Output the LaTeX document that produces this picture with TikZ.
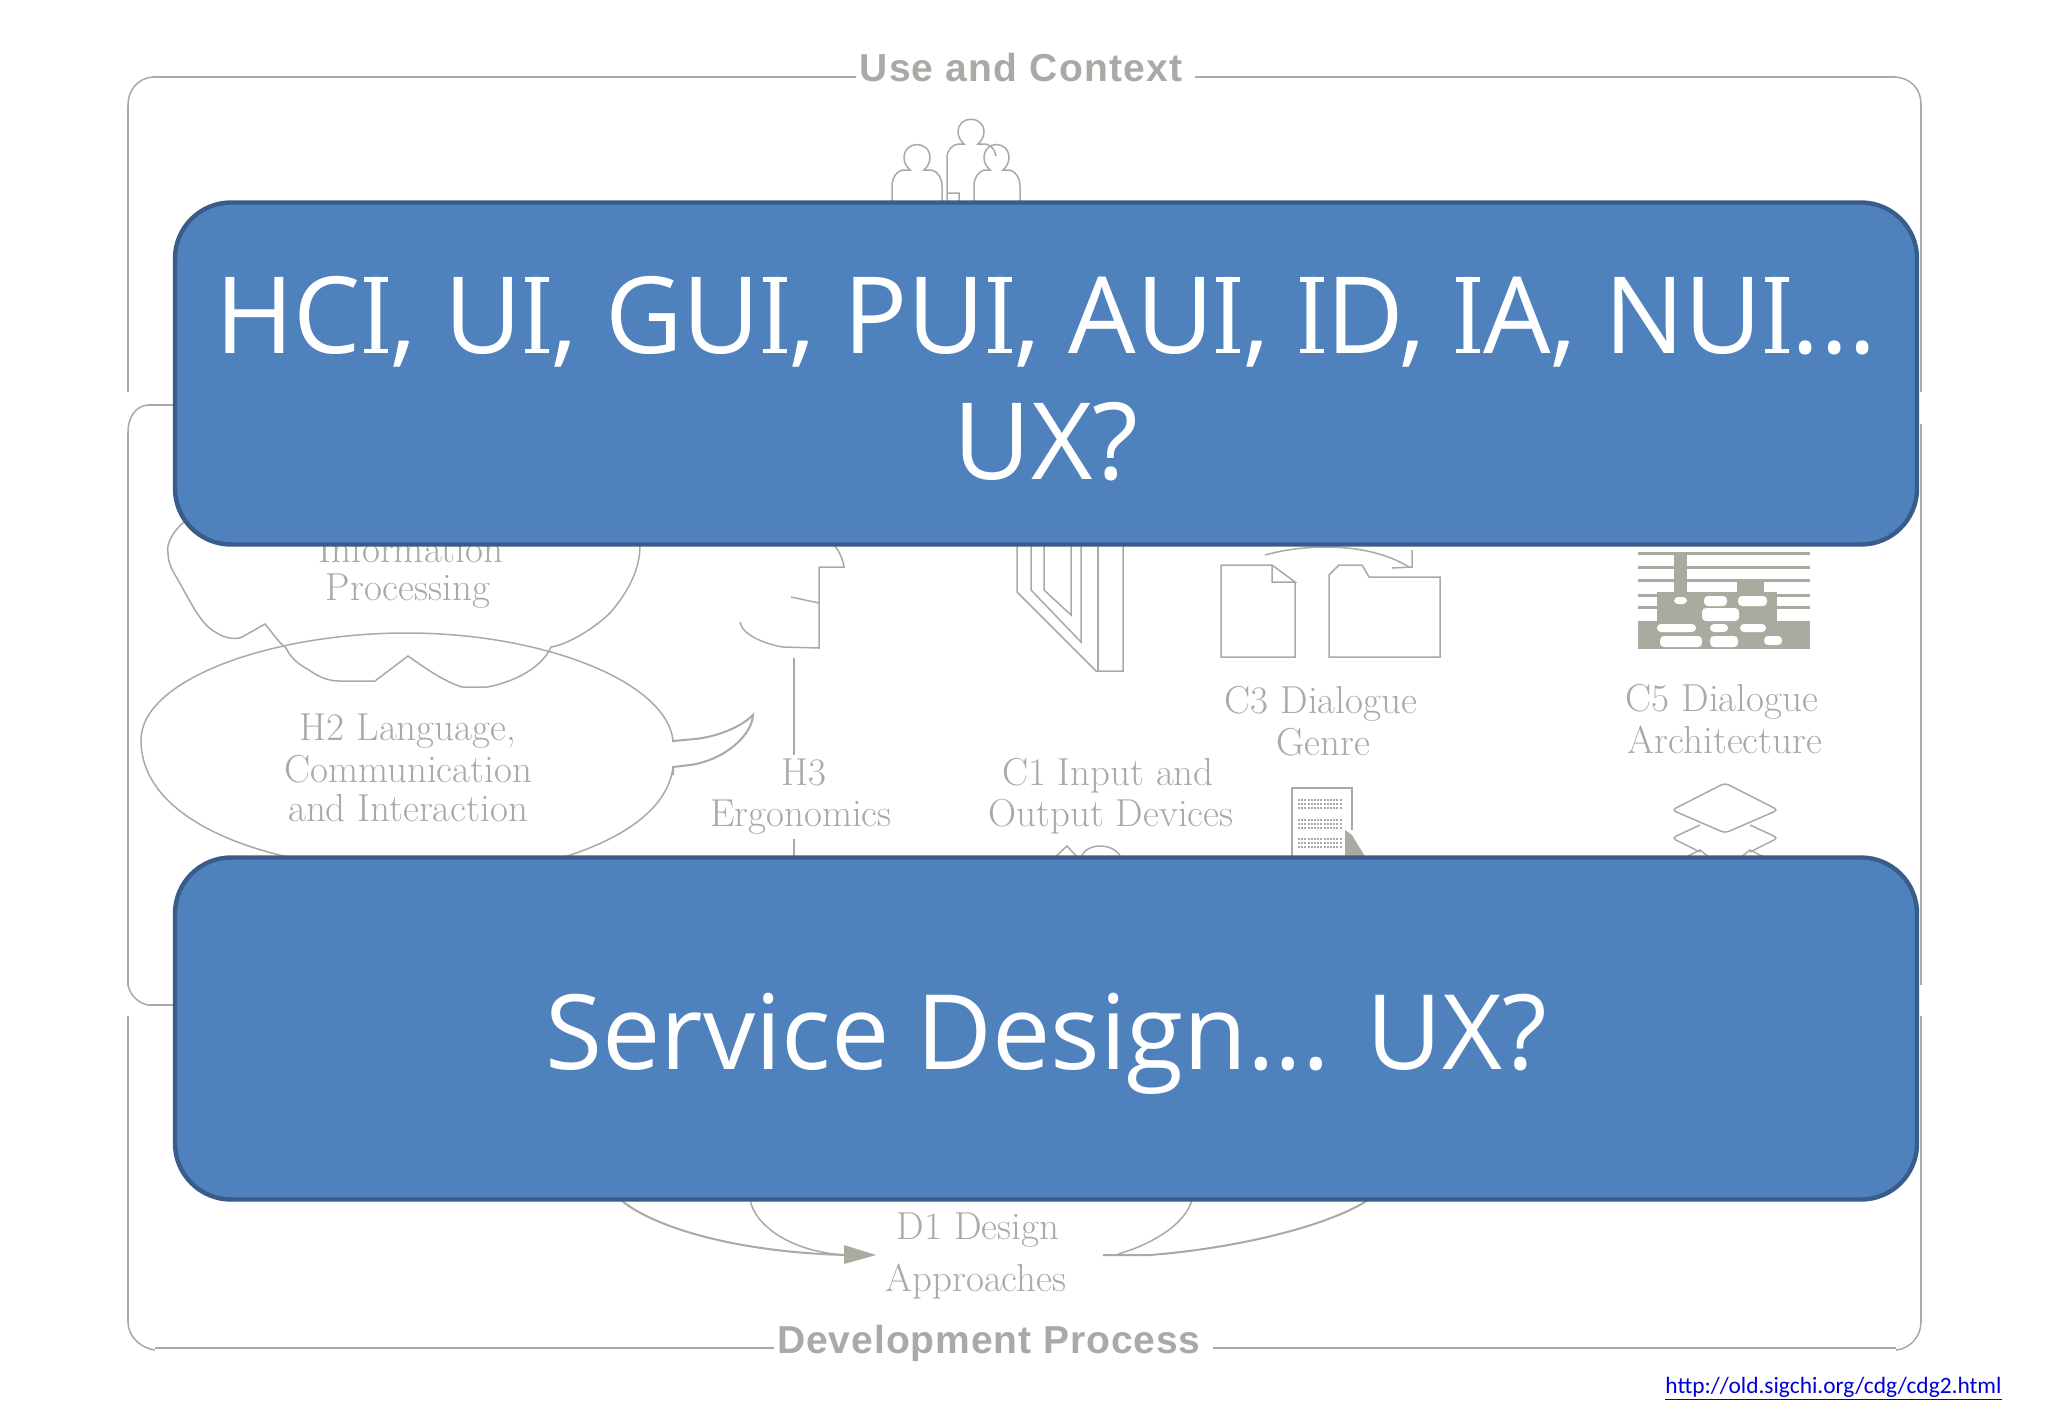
\documentclass[tikz,border=0pt]{standalone}
\usepackage{fontspec}
\setmainfont{Open Sans}
\newfontfamily\headfont[LetterSpace=3.2]{Liberation Sans}
\newfontfamily\devfont[LetterSpace=2.4]{Liberation Sans}
\newfontfamily\slabfont{Latin Modern Roman}
\newfontfamily\bannerfont{Open Sans}
\newfontfamily\linkfont{Carlito}
\definecolor{lin}{HTML}{A9A9A5}
\definecolor{filg}{HTML}{ABAAA0}
\definecolor{bfill}{HTML}{4F81BD}
\definecolor{bline}{HTML}{385D8A}
% capital I with slab serifs, as the banner lettering has it
\newcommand\slabI{\makebox[14.7pt][c]{\makebox[0pt][c]{I}\makebox[0pt][c]{\rule{12pt}{2.3pt}}\makebox[0pt][c]{\rule[35.75pt]{12pt}{2.3pt}}}}
\tikzset{
  frameline/.style={draw=lin,line width=1.3pt,line cap=butt},
  thinline/.style={draw=lin,line width=.75pt,line join=miter},
  medline/.style={draw=lin,line width=1pt},
  lbl/.style={anchor=base,inner sep=0pt,text=lin,font=\slabfont\fontsize{19.5}{21}\selectfont},
  head/.style={anchor=base,inner sep=0pt,text=lin,font=\headfont\bfseries\fontsize{19.5}{22}\selectfont},
  banner/.style={rectangle,rounded corners=28pt,fill=bfill,draw=bline,line width=2.2pt,
    minimum width=871pt,minimum height=171pt,inner sep=0pt,text=white,align=center},
  hole/.style={fill=white,draw=none},
  solid fig/.style={fill=filg,draw=none}
}
\begin{document}
\begin{tikzpicture}[x=0.5pt,y=-0.5pt]
\useasboundingbox (0,0) rectangle (2048,1418);
\fill[white] (0,0) rectangle (2048,1418);
% outer frames
\draw[frameline] (128,392) -- (128,105);
\draw[thinline] (128,105) .. controls (128,90) and (138,78) .. (153,77);
\draw[frameline] (153,77) -- (856,77);
\draw[frameline] (1195,77) -- (1895,77);
\draw[thinline] (1895,77) .. controls (1910,78) and (1921,88) .. (1921,105);
\draw[frameline] (1921,105) -- (1921,392);
\draw[frameline] (1921,424) -- (1921,985);
\draw[frameline] (1921,1016) -- (1921,1322);
\draw[thinline] (1921,1322) .. controls (1921,1336) and (1910,1349) .. (1896,1350);
\draw[frameline] (1896,1348) -- (1213,1348);
\draw[frameline] (774,1348) -- (155,1348);
\draw[thinline] (155,1350) .. controls (140,1348) and (128,1336) .. (128,1322);
\draw[frameline] (128,1322) -- (128,1016);
% inner frame
\draw[frameline] (128,985) -- (128,432);
\draw[thinline] (128,432) .. controls (128,418) and (135,406) .. (148,405);
\draw[frameline] (148,405) -- (180,405);
\draw[thinline] (128,985) .. controls (130,995) and (138,1003) .. (148,1005);
\draw[frameline] (148,1005) -- (180,1005);
% people
\draw[thinline] (904,158) .. controls (904,140) and (930,140) .. (930,158) .. controls (930,164) and (926,168) .. (924,170) -- (932,170) .. controls (938,172) and (942,178) .. (942,186) -- (942,205) (892,205) -- (892,186) .. controls (892,178) and (896,172) .. (902,170) -- (910,170) .. controls (908,168) and (904,164) .. (904,158);
\draw[thinline] (958,132) .. controls (958,115) and (984,115) .. (984,132) .. controls (984,138) and (980,142) .. (978,144) -- (986,144) .. controls (992,146) and (995,150) .. (996,156) (947,205) -- (947,193) -- (959,193) -- (959,205) (947,193) -- (947,158) .. controls (947,150) and (952,145) .. (958,144) -- (964,144) .. controls (962,142) and (958,138) .. (958,132);
\draw[thinline] (984,158) .. controls (984,140) and (1009,140) .. (1009,158) .. controls (1009,164) and (1005,168) .. (1003,170) -- (1010,170) .. controls (1016,172) and (1020,178) .. (1020,186) -- (1020,205) (974,205) -- (974,186) .. controls (974,178) and (978,172) .. (984,170) -- (990,170) .. controls (988,168) and (984,164) .. (984,158);
% cloud
\draw[thinline] (184,522) .. controls (172,532) and (166,545) .. (168,553) .. controls (168,560) and (170,566) .. (174,573) .. controls (190,600) and (200,625) .. (217,633) .. controls (224,638) and (236,640) .. (242,637) -- (265,624) .. controls (272,632) and (278,642) .. (286,648) .. controls (292,660) and (300,665) .. (309,670) .. controls (320,678) and (330,681) .. (339,681) -- (375,681) -- (408,656) .. controls (425,668) and (445,682) .. (462,687) -- (487,687) .. controls (505,684) and (540,672) .. (551,647) .. controls (565,645) and (590,632) .. (610,613) .. controls (628,592) and (640,570) .. (640,545);
% speech ellipse
\draw[thinline] (673,740) .. controls (665,680) and (540,633) .. (407,633) .. controls (270,633) and (141,680) .. (141,740) .. controls (141,810) and (230,845) .. (293,858) (561,858) .. controls (620,840) and (668,810) .. (673,767);
\draw[medline] (673,740) -- (673,741) -- (695,739) .. controls (715,737) and (740,728) .. (753,715) .. controls (752,735) and (725,760) .. (690,765) -- (673,767) -- (673,775);
% face
\draw[thinline] (794,658) -- (794,755);
\draw[thinline] (794,839) -- (794,858);
\draw[thinline] (834,545) .. controls (840,552) and (843,560) .. (844,567) -- (819,567) -- (819,648) -- (783,647) .. controls (765,644) and (742,635) .. (740,622);
\draw[thinline] (791,597) -- (819,603);
% labels under the top banner
\node[lbl] (h1a) at (411,562) {Information};
\node[lbl] (h1b) at (408,600) {Processing};
\node[lbl] (h2a) at (408,740) {H2 Language,};
\node[lbl] (h2b) at (408,782) {Communication};
\node[lbl] (h2c) at (408,821) {and Interaction};
\node[lbl] (h3a) at (804,785) {H3};
\node[lbl] (h3b) at (801,826) {Ergonomics};
\node[lbl] (c1a) at (1108,785) {C1 Input and};
\node[lbl] (c1b) at (1111,826) {Output Devices};
\node[lbl] (c3a) at (1321,713) {C3 Dialogue};
\node[lbl] (c3b) at (1323,755) {Genre};
\node[lbl] (c5a) at (1722,711) {C5 Dialogue};
\node[lbl] (c5b) at (1725,753) {Architecture};
\node[lbl] (d1a) at (978,1239) {D1 Design};
\node[lbl] (d1b) at (976,1291) {Approaches};
% book
\draw[thinline] (1017,540) -- (1017,592) -- (1096,671) -- (1123,671) -- (1123,540);
\draw[thinline] (1098,540) -- (1098,671);
\draw[thinline] (1031,540) -- (1031,590) -- (1081,642) -- (1081,540);
\draw[thinline] (1044,540) -- (1044,590) -- (1071,615) -- (1071,540);
% document and folder
\draw[thinline] (1295,582) -- (1295,657) -- (1221,657) -- (1221,565) -- (1272,565) -- (1295,582) -- (1272,582) -- (1272,565);
\draw[thinline] (1329,657) -- (1329,575) -- (1339,565) -- (1362,565) -- (1369,577) -- (1440,577) -- (1440,657) -- cycle;
\draw[thinline] (1265,555) .. controls (1300,545) and (1365,540) .. (1409,567);
\draw[thinline] (1412,550) -- (1412,567) -- (1392,568);
% C5 figure
\foreach \yy in {553,567,580,595,607,622,634}
  \fill[filg] (1638,\yy-1.5) rectangle (1810,\yy+1.5);
\fill[solid fig] (1674,552) rectangle (1687,592);
\fill[solid fig] (1737,580) rectangle (1764,595);
\fill[solid fig] (1657,592) rectangle (1777,623);
\fill[solid fig] (1638,623) rectangle (1810,649);
\fill[hole,rounded corners=2pt] (1674,597) rectangle (1687,604);
\fill[hole,rounded corners=2pt] (1704,596) rectangle (1727,606);
\fill[hole,rounded corners=2pt] (1738,596) rectangle (1767,606);
\fill[hole,rounded corners=2pt] (1702,608) rectangle (1739,621);
\fill[hole,rounded corners=2pt] (1657,624) rectangle (1696,632);
\fill[hole,rounded corners=2pt] (1710,624) rectangle (1728,632);
\fill[hole,rounded corners=2pt] (1740,624) rectangle (1766,632);
\fill[hole,rounded corners=2pt] (1660,636) rectangle (1702,647);
\fill[hole,rounded corners=2pt] (1710,636) rectangle (1738,647);
\fill[hole,rounded corners=2pt] (1764,636) rectangle (1782,645);
% screen
\draw[thinline] (1292,858) -- (1292,788) -- (1352,788) -- (1352,830);
\foreach \yy in {800,804,808,820,824,828,839,843,847}
  \draw[draw=lin,line width=.8pt,dash pattern=on 1pt off .6pt] (1298,\yy) -- (1342,\yy);
\fill[solid fig] (1345,830) -- (1352,835) -- (1358,845) -- (1366,858) -- (1345,858) -- cycle;
% diamonds
\draw[thinline,rounded corners=2pt] (1725,783) -- (1778,810) -- (1725,833) -- (1672,810) -- cycle;
\draw[thinline,rounded corners=2pt] (1700,825) -- (1672,838) -- (1700,852);
\draw[thinline,rounded corners=2pt] (1750,825) -- (1778,838) -- (1750,852);
\draw[thinline] (1684,858) -- (1700,850) -- (1710,858);
\draw[thinline] (1740,858) -- (1750,850) -- (1766,858);
% C1 icon
\draw[thinline] (1054,858) -- (1067,846) -- (1078,858);
\draw[thinline] (1081,858) .. controls (1085,842) and (1115,842) .. (1121,858);
% development arrows
\coordinate (arrtip) at (876,1255);
\coordinate (arrout) at (1103,1255);
\draw[medline] (621,1200) .. controls (650,1225) and (730,1252) .. (846,1255);
\draw[thinline] (750,1200) .. controls (755,1225) and (790,1252) .. (846,1255);
\fill[solid fig] (844,1245) -- (arrtip) -- (844,1264) -- cycle;
\draw[medline] (arrout) -- (1150,1255) .. controls (1240,1248) and (1330,1225) .. (1368,1200);
\draw[thinline] (1118,1254) .. controls (1150,1245) and (1185,1225) .. (1192,1200);
% headings
\node[head] (use) at (1021,82) {Use and Context};
\node[head,font=\devfont\bfseries\fontsize{19.5}{22}\selectfont] (dev) at (989,1353) {Development Process};
% banners
\node[banner,font=\bannerfont\fontsize{53.3}{63.3}\selectfont] (b1) at (1046,373.5) {\rule{0pt}{43.7pt}HC\slabI, U\slabI, GU\slabI, PU\slabI, AU\slabI, \slabI D, \slabI A, NU\slabI...\\UX?};
\node[banner,font=\bannerfont\fontsize{52}{62}\selectfont] (b2) at (1046,1028.5) {\rule{0pt}{53pt}Service Design... UX?};
% link
\node[anchor=base east,inner sep=0pt,text=blue!85!black,font=\linkfont\fontsize{11.7}{14}\selectfont] (url) at (2002,1393) {\underline{http://old.sigchi.org/cdg/cdg2.html}};
\end{tikzpicture}
\end{document}
